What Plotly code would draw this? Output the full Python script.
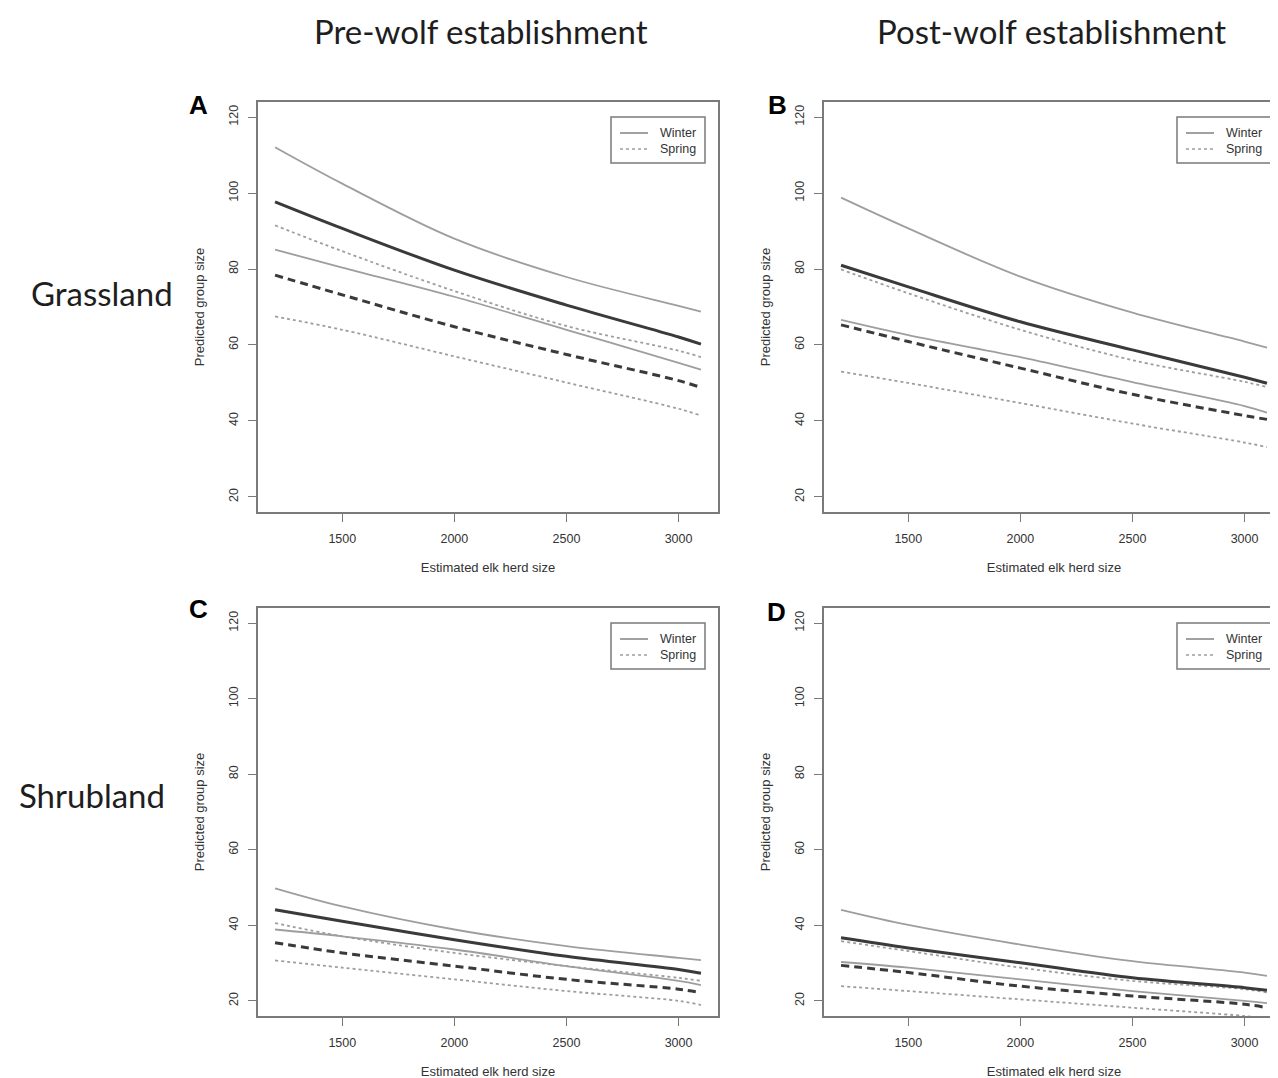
import plotly.graph_objects as go

# ---------------- data ----------------
herd = [1200, 1500, 2000, 2500, 3000, 3100]

# Panel A: Grassland, pre-wolf
A_win_up = [112.1, 102.5, 88.0, 77.9, 70.3, 68.8]
A_win_fit = [97.7, 90.7, 79.7, 70.5, 62.1, 60.2]
A_win_lo = [85.1, 80.4, 72.7, 64.0, 55.3, 53.5]
A_spr_up = [91.5, 84.7, 74.2, 65.0, 58.5, 56.8]
A_spr_fit = [78.4, 73.2, 64.8, 57.5, 50.6, 48.8]
A_spr_lo = [67.5, 64.0, 57.0, 50.1, 43.2, 41.4]

# Panel B: Grassland, post-wolf
B_win_up = [98.8, 90.7, 78.0, 68.5, 60.9, 59.3]
B_win_fit = [81.0, 75.3, 66.1, 58.7, 51.5, 49.9]
B_win_lo = [66.6, 62.6, 56.8, 50.2, 43.9, 42.2]
B_spr_up = [79.9, 73.6, 64.0, 56.0, 50.3, 48.9]
B_spr_fit = [65.3, 60.9, 53.9, 47.0, 41.4, 40.4]
B_spr_lo = [53.0, 50.0, 44.7, 39.3, 34.3, 33.1]

# Panel C: Shrubland, pre-wolf
C_win_up = [49.8, 45.0, 38.9, 34.5, 31.4, 30.8]
C_win_fit = [44.1, 41.1, 36.2, 31.8, 28.3, 27.3]
C_win_lo = [38.9, 37.1, 33.6, 29.2, 25.3, 24.2]
C_spr_up = [40.6, 37.1, 32.7, 29.2, 26.1, 25.3]
C_spr_fit = [35.4, 32.7, 29.2, 25.7, 23.1, 22.2]
C_spr_lo = [30.7, 28.8, 25.7, 22.6, 20.0, 18.9]

# Panel D: Shrubland, post-wolf
D_win_up = [44.1, 40.1, 34.9, 30.5, 27.5, 26.6]
D_win_fit = [36.7, 34.0, 30.1, 26.1, 23.5, 22.8]
D_win_lo = [30.3, 28.8, 25.7, 22.6, 20.0, 19.4]
D_spr_up = [35.8, 33.2, 28.8, 25.3, 23.1, 22.2]
D_spr_fit = [29.4, 27.5, 23.9, 21.3, 19.1, 18.2]
D_spr_lo = [23.9, 22.6, 20.4, 18.2, 16.0, 15.3]

x_ticks = [1500, 2000, 2500, 3000]
y_ticks = [20, 40, 60, 80, 100, 120]
col_titles = ["Pre-wolf establishment", "Post-wolf establishment"]
row_titles = ["Grassland", "Shrubland"]
panel_letters = ["A", "B", "C", "D"]
legend_labels = ["Winter", "Spring"]
x_title = "Estimated elk herd size"
y_title = "Predicted group size"

panels = [
    (A_win_up, A_win_fit, A_win_lo, A_spr_up, A_spr_fit, A_spr_lo),
    (B_win_up, B_win_fit, B_win_lo, B_spr_up, B_spr_fit, B_spr_lo),
    (C_win_up, C_win_fit, C_win_lo, C_spr_up, C_spr_fit, C_spr_lo),
    (D_win_up, D_win_fit, D_win_lo, D_spr_up, D_spr_fit, D_spr_lo),
]

# ---------------- layout geometry ----------------
W, H = 1278, 1078


def px(v):
    return v / W


def py(v):
    return 1 - v / H


box_x = [(250, 710), (816, 1276)]
box_y = [(94, 504), (600, 1008)]
xdom = [(px(a), px(b)) for a, b in box_x]
ydom = [(py(b), py(a)) for a, b in box_y]
letter_pos = [(202, 97), (781, 97), (202, 601), (780, 604)]

DARK = "#3a3a3a"
LIGHT = "#9e9e9e"
BOX = "#7a7a7a"
TXT = "#333333"
AX_FONT = "Arial, Liberation Sans, Helvetica"

fig = go.Figure()

for i, p in enumerate(panels):
    r, c = divmod(i, 2)
    xa = "x" if i == 0 else f"x{i+1}"
    ya = "y" if i == 0 else f"y{i+1}"
    wu, wf, wl, su, sf, sl = p
    styles = [
        (wu, LIGHT, 1.8, "solid", "Winter"),
        (wl, LIGHT, 1.8, "solid", "Winter"),
        (su, LIGHT, 1.8, "dot", "Spring"),
        (sl, LIGHT, 1.8, "dot", "Spring"),
        (wf, DARK, 3.0, "solid", "Winter"),
        (sf, DARK, 3.0, "8px,5px", "Spring"),
    ]
    for ys, col, w, dash, nm in styles:
        fig.add_trace(go.Scatter(
            x=herd, y=ys, mode="lines", xaxis=xa, yaxis=ya, name=nm,
            line=dict(color=col, width=w, dash=dash, shape="spline", smoothing=1.0),
            showlegend=False, hoverinfo="skip"))

    axis_common = dict(
        showline=True, mirror=True, linecolor=BOX, linewidth=1.5,
        ticks="outside", ticklen=8, tickcolor=BOX, tickwidth=1.2,
        showgrid=False, zeroline=False, automargin=False,
        tickfont=dict(family=AX_FONT, size=12.5, color=TXT),
    )
    fig.layout[("xaxis" if i == 0 else f"xaxis{i+1}")] = dict(
        axis_common, domain=list(xdom[c]), anchor=ya, range=[1124, 3176],
        tickvals=x_ticks, ticklabelstandoff=6,
        title=dict(text=x_title, standoff=18,
                   font=dict(family=AX_FONT, size=13, color=TXT)))
    fig.layout[("yaxis" if i == 0 else f"yaxis{i+1}")] = dict(
        axis_common, domain=list(ydom[r]), anchor=xa, range=[16, 124],
        tickvals=y_ticks, tickangle=-90, ticklabelstandoff=5,
        title=dict(text=y_title, standoff=20,
                   font=dict(family=AX_FONT, size=13, color=TXT)))

    # legend box drawn in each panel (R-style)
    R = box_x[c][1]
    T = box_y[r][0]
    fig.add_shape(type="rect", xref="paper", yref="paper",
                  x0=px(R - 107), x1=px(R - 13), y0=py(T + 61), y1=py(T + 15),
                  line=dict(color=BOX, width=1.5), fillcolor="white")
    for k, (lab, dash, col) in enumerate(zip(legend_labels, ["solid", "dot"],
                                             ["#8a8a8a", LIGHT])):
        yy = T + 31 + 16 * k
        fig.add_shape(type="line", xref="paper", yref="paper",
                      x0=px(R - 98), x1=px(R - 70), y0=py(yy), y1=py(yy),
                      line=dict(color=col, width=1.6, dash=dash))
        fig.add_annotation(text=lab, xref="paper", yref="paper",
                           x=px(R - 20), y=py(yy), xanchor="right", yanchor="middle",
                           showarrow=False,
                           font=dict(family=AX_FONT, size=12.5, color=TXT))

    lx, ly = letter_pos[i]
    fig.add_annotation(text=f"<b>{panel_letters[i]}</b>", xref="paper", yref="paper",
                       x=px(lx), y=py(ly), xanchor="right", yanchor="middle",
                       showarrow=False,
                       font=dict(family=AX_FONT, size=26, color="black"))

for c, t in enumerate(col_titles):
    fig.add_annotation(text=t, xref="paper", yref="paper", x=px([473, 1043][c]),
                       y=py(23), xanchor="center", yanchor="middle", showarrow=False,
                       font=dict(family="Lato", size=33, color="#1e1e1e"))
for r, t in enumerate(row_titles):
    fig.add_annotation(text=t, xref="paper", yref="paper", x=px([94, 84][r]),
                       y=py([285, 787][r]), xanchor="center", yanchor="middle",
                       showarrow=False, font=dict(family="Lato", size=33, color="#1e1e1e"))

fig.update_layout(
    width=W, height=H, margin=dict(l=0, r=0, t=0, b=0),
    paper_bgcolor="white", plot_bgcolor="white", showlegend=False,
)

fig.write_html("out.html")
